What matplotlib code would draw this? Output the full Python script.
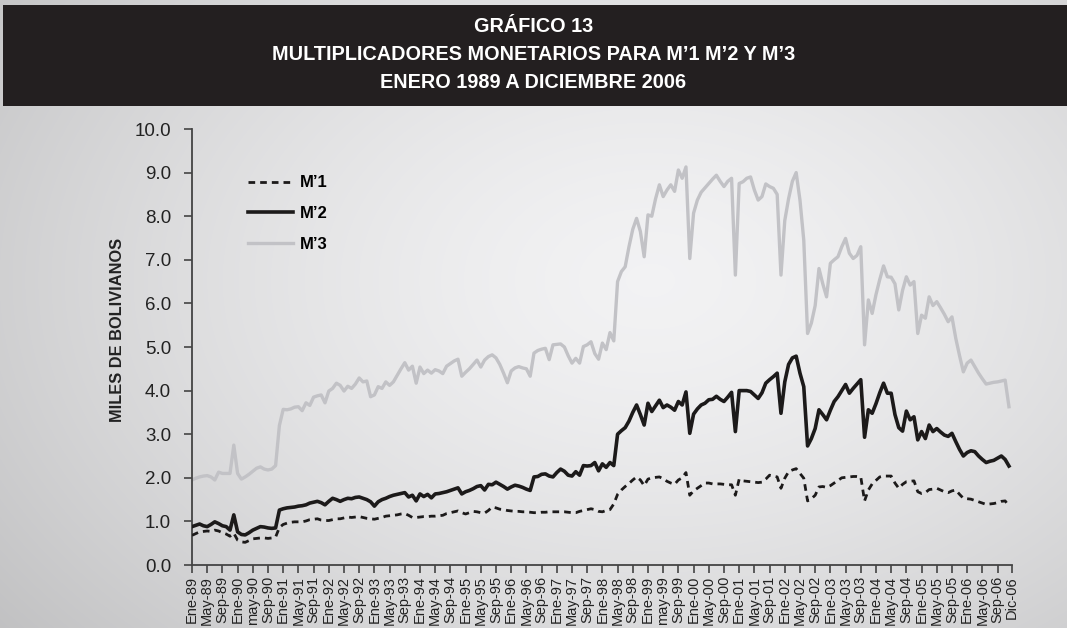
import numpy as np
import matplotlib
matplotlib.use("Agg")
import matplotlib.pyplot as plt
from matplotlib import font_manager
from matplotlib.patches import Rectangle

# multiplicadores mensuales, enero 1989 a diciembre 2006 (12 valores por año)
m1 = [
    0.68, 0.72, 0.76, 0.77, 0.78, 0.77, 0.80, 0.78, 0.74, 0.71, 0.66, 0.73,  # 1989
    0.57, 0.53, 0.52, 0.56, 0.60, 0.61, 0.62, 0.62, 0.61, 0.62, 0.64, 0.86,  # 1990
    0.93, 0.96, 0.98, 0.99, 0.99, 0.99, 1.01, 1.04, 1.05, 1.06, 1.03, 1.02,  # 1991
    1.02, 1.04, 1.06, 1.06, 1.08, 1.10, 1.09, 1.10, 1.11, 1.09, 1.07, 1.06,  # 1992
    1.05, 1.07, 1.09, 1.12, 1.13, 1.14, 1.15, 1.17, 1.18, 1.14, 1.09, 1.09,  # 1993
    1.10, 1.11, 1.11, 1.12, 1.12, 1.13, 1.14, 1.18, 1.20, 1.22, 1.24, 1.20,  # 1994
    1.17, 1.20, 1.23, 1.22, 1.20, 1.19, 1.25, 1.33, 1.31, 1.28, 1.27, 1.25,  # 1995
    1.24, 1.23, 1.23, 1.22, 1.22, 1.21, 1.20, 1.20, 1.21, 1.21, 1.22, 1.22,  # 1996
    1.22, 1.22, 1.22, 1.21, 1.20, 1.20, 1.23, 1.25, 1.27, 1.29, 1.27, 1.23,  # 1997
    1.22, 1.25, 1.27, 1.40, 1.62, 1.72, 1.80, 1.87, 1.95, 2.02, 1.95, 1.82,  # 1998
    1.97, 2.00, 2.01, 2.02, 1.98, 1.92, 1.88, 1.85, 1.95, 2.00, 2.12, 1.60,  # 1999
    1.70, 1.76, 1.82, 1.88, 1.88, 1.86, 1.86, 1.86, 1.85, 1.84, 1.84, 1.60,  # 2000
    1.97, 1.93, 1.92, 1.91, 1.90, 1.89, 1.90, 1.97, 2.06, 2.04, 2.02, 1.76,  # 2001
    1.99, 2.14, 2.18, 2.21, 2.10, 1.99, 1.47, 1.52, 1.60, 1.79, 1.80, 1.78,  # 2002
    1.82, 1.88, 1.94, 2.00, 2.01, 2.02, 2.03, 2.03, 2.02, 1.47, 1.72, 1.86,  # 2003
    1.94, 2.02, 2.04, 2.04, 2.04, 1.88, 1.76, 1.85, 1.91, 1.92, 1.93, 1.68,  # 2004
    1.64, 1.66, 1.73, 1.74, 1.76, 1.72, 1.68, 1.66, 1.70, 1.72, 1.62, 1.53,  # 2005
    1.52, 1.51, 1.48, 1.45, 1.42, 1.39, 1.40, 1.41, 1.43, 1.46, 1.47, 1.35,  # 2006
]

m2 = [
    0.88, 0.91, 0.94, 0.90, 0.88, 0.93, 0.99, 0.95, 0.90, 0.88, 0.80, 1.15,
    0.76, 0.70, 0.69, 0.74, 0.80, 0.84, 0.88, 0.87, 0.85, 0.84, 0.85, 1.26,
    1.29, 1.31, 1.32, 1.33, 1.35, 1.36, 1.38, 1.42, 1.44, 1.46, 1.43, 1.38,
    1.46, 1.53, 1.50, 1.46, 1.50, 1.53, 1.52, 1.55, 1.56, 1.53, 1.50, 1.45,
    1.35, 1.45, 1.50, 1.53, 1.57, 1.60, 1.62, 1.64, 1.66, 1.56, 1.60, 1.47,
    1.63, 1.57, 1.62, 1.54, 1.63, 1.64, 1.66, 1.68, 1.71, 1.74, 1.77, 1.63,
    1.68, 1.71, 1.75, 1.80, 1.82, 1.72, 1.85, 1.84, 1.90, 1.85, 1.80, 1.74,
    1.79, 1.83, 1.81, 1.78, 1.74, 1.71, 2.02, 2.03, 2.08, 2.09, 2.04, 2.02,
    2.12, 2.20, 2.15, 2.06, 2.04, 2.14, 2.06, 2.28, 2.27, 2.28, 2.35, 2.16,
    2.32, 2.24, 2.35, 2.28, 3.00, 3.08, 3.15, 3.30, 3.50, 3.67, 3.45, 3.21,
    3.71, 3.52, 3.65, 3.78, 3.61, 3.67, 3.62, 3.55, 3.75, 3.67, 3.97, 3.02,
    3.46, 3.58, 3.67, 3.71, 3.79, 3.80, 3.87, 3.80, 3.75, 3.85, 3.96, 3.06,
    4.00, 4.00, 4.00, 3.98, 3.90, 3.82, 3.95, 4.17, 4.25, 4.32, 4.40, 3.48,
    4.20, 4.60, 4.75, 4.79, 4.40, 4.09, 2.73, 2.90, 3.13, 3.56, 3.45, 3.33,
    3.55, 3.75, 3.86, 4.00, 4.14, 3.94, 4.05, 4.15, 4.25, 2.93, 3.56, 3.48,
    3.70, 3.95, 4.17, 3.94, 3.94, 3.45, 3.15, 3.07, 3.53, 3.33, 3.40, 2.87,
    3.06, 2.90, 3.21, 3.06, 3.13, 3.05, 2.98, 2.95, 3.02, 2.83, 2.65, 2.50,
    2.58, 2.62, 2.60, 2.50, 2.42, 2.35, 2.38, 2.40, 2.45, 2.50, 2.42, 2.27,
]

m3 = [
    1.95, 1.99, 2.02, 2.04, 2.05, 2.02, 1.95, 2.13, 2.10, 2.10, 2.10, 2.75,
    2.10, 1.97, 2.02, 2.08, 2.15, 2.22, 2.25, 2.20, 2.18, 2.20, 2.28, 3.20,
    3.57, 3.56, 3.58, 3.62, 3.63, 3.54, 3.72, 3.66, 3.85, 3.88, 3.90, 3.72,
    3.99, 4.05, 4.17, 4.12, 3.99, 4.10, 4.05, 4.15, 4.29, 4.20, 4.22, 3.86,
    3.90, 4.09, 4.05, 4.20, 4.12, 4.20, 4.35, 4.50, 4.64, 4.47, 4.56, 4.17,
    4.54, 4.39, 4.47, 4.40, 4.48, 4.45, 4.39, 4.56, 4.62, 4.68, 4.72, 4.33,
    4.42, 4.50, 4.60, 4.70, 4.54, 4.70, 4.78, 4.82, 4.75, 4.60, 4.40, 4.18,
    4.45, 4.52, 4.55, 4.52, 4.50, 4.33, 4.86, 4.92, 4.95, 4.97, 4.71, 5.05,
    5.06, 5.07, 5.00, 4.80, 4.63, 4.74, 4.63, 5.01, 5.05, 5.12, 4.85, 4.72,
    5.09, 4.94, 5.33, 5.14, 6.50, 6.73, 6.84, 7.30, 7.70, 7.95, 7.65, 7.07,
    8.03, 8.00, 8.40, 8.72, 8.45, 8.60, 8.72, 8.57, 9.06, 8.87, 9.13, 7.03,
    8.07, 8.37, 8.55, 8.65, 8.75, 8.85, 8.94, 8.80, 8.68, 8.80, 8.87, 6.65,
    8.75, 8.79, 8.87, 8.90, 8.60, 8.37, 8.45, 8.74, 8.68, 8.64, 8.50, 6.65,
    7.90, 8.40, 8.80, 9.00, 8.37, 7.45, 5.31, 5.55, 5.95, 6.80, 6.45, 6.15,
    6.92, 7.00, 7.07, 7.30, 7.49, 7.15, 7.03, 7.10, 7.30, 5.05, 6.08, 5.77,
    6.20, 6.55, 6.86, 6.61, 6.60, 6.45, 5.85, 6.30, 6.61, 6.42, 6.50, 5.31,
    5.73, 5.66, 6.15, 5.95, 6.04, 5.90, 5.75, 5.58, 5.69, 5.20, 4.80, 4.43,
    4.63, 4.70, 4.55, 4.40, 4.27, 4.15, 4.17, 4.19, 4.20, 4.22, 4.24, 3.63,
]

tick_labels = [
    'Ene-89', 'May-89', 'Sep-89', 'Ene-90', 'may-90', 'Sep-90',
    'Ene-91', 'May-91', 'Sep-91', 'Ene-92', 'May-92', 'Sep-92',
    'Ene-93', 'May-93', 'Sep-93', 'Ene-94', 'May-94', 'Sep-94',
    'Ene-95', 'May-95', 'Sep-95', 'Ene-96', 'May-96', 'Sep-96',
    'Ene-97', 'May-97', 'Sep-97', 'Ene-98', 'May-98', 'Sep-98',
    'Ene-99', 'may-99', 'Sep-99', 'Ene-00', 'May-00', 'Sep-00',
    'Ene-01', 'May-01', 'Sep-01', 'Ene-02', 'May-02', 'Sep-02',
    'Ene-03', 'May-03', 'Sep-03', 'Ene-04', 'May-04', 'Sep-04',
    'Ene-05', 'May-05', 'Sep-05', 'Ene-06', 'May-06', 'Sep-06',
    'Dic-06',
]

title_lines = ['GRÁFICO 13',
               'MULTIPLICADORES MONETARIOS PARA M’1 M’2 Y M’3',
               'ENERO 1989 A DICIEMBRE 2006']

names = {f.name for f in font_manager.fontManager.ttflist}
body_font = 'Liberation Sans' if 'Liberation Sans' in names else 'DejaVu Sans'
plt.rcParams['font.family'] = [body_font, 'DejaVu Sans']

W, H = 1067, 628
fig = plt.figure(figsize=(W / 100, H / 100), dpi=100)
fig.patch.set_facecolor('white')

# fondo gris con degradado radial
bg = fig.add_axes([0, 0, 1, 1], zorder=-5)
bg.set_axis_off()
yy, xx = np.mgrid[0:H, 0:W]
d = np.sqrt(((xx - 650) / 820.0) ** 2 + ((yy - 280) / 560.0) ** 2)
shade = 0.95 - 0.19 * np.clip(d, 0, 1.4) ** 1.5
bg.imshow(np.dstack([shade, shade, shade + 0.005]).clip(0, 1),
          extent=(0, W, H, 0), aspect='auto')
bg.set_xlim(0, W)
bg.set_ylim(H, 0)
bg.add_patch(Rectangle((3, 5), W - 3, 101, facecolor='#231f20', edgecolor='none'))

for k, line in enumerate(title_lines):
    bg.text(W / 2, 26 + 28 * k, line, color='white', ha='center', va='center',
            fontsize=14.3, fontweight='bold')

# grafico
x = np.arange(len(m1))
x_end = 215.8
ax = fig.add_axes([192 / W, 1 - 565 / H, 820 / W, 436 / H])
ax.patch.set_alpha(0)

ax.plot(x, m3, color='#c2c2c6', lw=2.4, label='M’3', zorder=2)
ax.plot(x, m2, color='#1c1a1a', lw=2.6, label='M’2', zorder=3)
ax.plot(x, m1, color='#1c1a1a', lw=2.0, ls=(0, (2.4, 1.8)), label='M’1', zorder=4)

ax.set_xlim(0, x_end)
ax.set_ylim(0, 10)
yt = np.arange(0, 10.5, 1.0)
ax.set_yticks(yt)
ax.set_yticklabels(['%.1f' % v for v in yt], fontsize=13.5, color='#222222')
ax.set_xticks(list(range(0, 216, 4)) + [x_end])
ax.set_xticklabels(tick_labels, rotation=90, fontsize=10.5, color='#222222')
ax.tick_params(axis='both', direction='out', length=6, width=1.2, color='#444444')
ax.tick_params(axis='x', pad=2)
ax.tick_params(axis='y', pad=9)
for s in ['top', 'right']:
    ax.spines[s].set_visible(False)
for s in ['left', 'bottom']:
    ax.spines[s].set_color('#444444')
    ax.spines[s].set_linewidth(1.3)

handles, labels = ax.get_legend_handles_labels()
order = [2, 1, 0]
ax.legend([handles[i] for i in order], [labels[i] for i in order],
          loc='upper left', bbox_to_anchor=(240 / W, 1 - 167 / H),
          bbox_transform=fig.transFigure, frameon=False, borderpad=0,
          handlelength=2.7, handletextpad=0.4, labelspacing=0.95,
          prop={'size': 12, 'weight': 'bold'})

fig.text(118 / W, 1 - 330 / H, 'MILES DE BOLIVIANOS', rotation=90,
         ha='center', va='center', fontsize=11.8, fontweight='bold', color='#222222')

fig.savefig('out.png', dpi=100)
